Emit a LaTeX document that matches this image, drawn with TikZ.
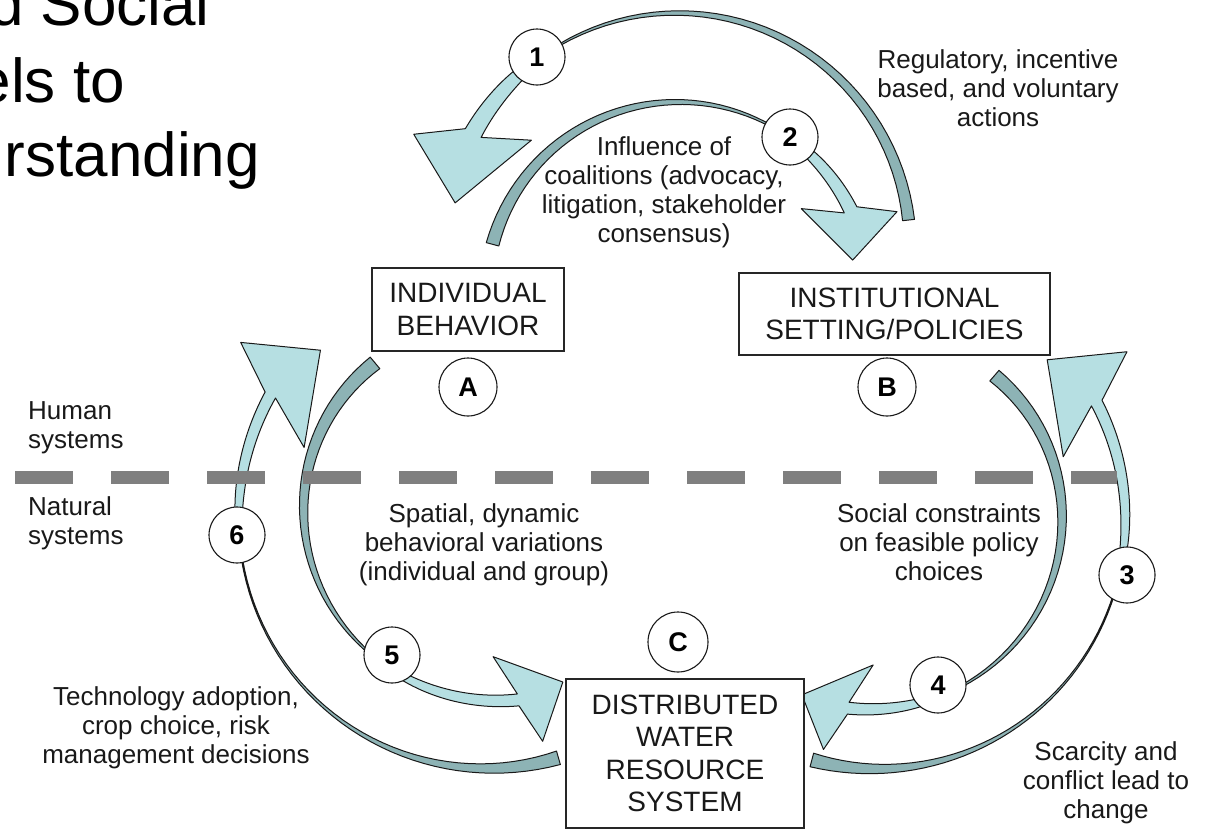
\documentclass[tikz,border=0pt]{standalone}
\usepackage{fontspec}
\setmainfont{Liberation Sans}

\definecolor{teallight}{HTML}{B6DFE2}
\definecolor{tealdark}{HTML}{8DB3B5}
\definecolor{sepgray}{HTML}{7F7F7F}

\newcommand\titlesize{\fontsize{62}{75}\selectfont}
\newcommand\notesize{\fontsize{26}{29}\selectfont}
\newcommand\boxsize{\fontsize{28}{32.5}\selectfont}
\newcommand\tagsize{\fontsize{27}{30}\selectfont\bfseries}

\pgfkeys{/ribbon/.cd,
  cx/.store in=\rbCx, cy/.store in=\rbCy,
  rt/.store in=\rbRt, rh/.store in=\rbRh,
  tail/.store in=\rbTail, twist/.store in=\rbTwist, base/.store in=\rbBase,
  tip/.store in=\rbTip, rtip/.store in=\rbRtip,
  bo/.store in=\rbBo, bi/.store in=\rbBi, head/.store in=\rbH,
  wt/.store in=\rbWt, wh/.store in=\rbWh,
  tailpow/.store in=\rbTP, headpow/.store in=\rbHP}

\newcommand\ribbon[1]{%
  \pgfkeys{/ribbon/.cd,tailpow=1,headpow=0.3,#1}%
  \begin{scope}[declare function={
      rr(\ang)=\rbRt+(\rbRh-\rbRt)*(\ang-(\rbTail))/((\rbBase)-(\rbTail));
      wd(\ang)=0.6+(\rbWt/2-0.6)*max(0.001,(\ang-(\rbTwist))/((\rbTail)-(\rbTwist)))^\rbTP;
      wl(\ang)=0.6+(\rbWh/2-0.6)*max(0.001,(\ang-(\rbTwist))/((\rbBase)-(\rbTwist)))^\rbHP;}]
    \draw[band, fill=tealdark]
      plot[domain=\rbTail:\rbTwist, samples=40, variable=\ang]
        ({\rbCx+(rr(\ang)+wd(\ang))*cos(\ang)}, {\rbCy+(rr(\ang)+wd(\ang))*sin(\ang)})
      -- plot[domain=\rbTwist:\rbTail, samples=40, variable=\ang]
        ({\rbCx+(rr(\ang)-wd(\ang))*cos(\ang)}, {\rbCy+(rr(\ang)-wd(\ang))*sin(\ang)})
      -- cycle;
    \draw[band, fill=teallight]
      plot[domain=\rbTwist:\rbBase, samples=30, variable=\ang]
        ({\rbCx+(rr(\ang)+wl(\ang))*cos(\ang)}, {\rbCy+(rr(\ang)+wl(\ang))*sin(\ang)})
      -- ({\rbCx+(\rbRh+\rbH)*cos(\rbBo)}, {\rbCy+(\rbRh+\rbH)*sin(\rbBo)})
      -- ({\rbCx+\rbRtip*cos(\rbTip)}, {\rbCy+\rbRtip*sin(\rbTip)})
      -- ({\rbCx+(\rbRh-\rbH)*cos(\rbBi)}, {\rbCy+(\rbRh-\rbH)*sin(\rbBi)})
      -- plot[domain=\rbBase:\rbTwist, samples=30, variable=\ang]
        ({\rbCx+(rr(\ang)-wl(\ang))*cos(\ang)}, {\rbCy+(rr(\ang)-wl(\ang))*sin(\ang)})
      -- cycle;
  \end{scope}}

\tikzset{
  sysbox/.style={draw=black!85, line width=1.2pt, fill=white, inner sep=0pt, align=center, font=\boxsize, text=black!90},
  tag/.style={circle, draw=black!90, line width=1.1pt, fill=white, minimum size=56pt, inner sep=0pt, font=\tagsize},
  note/.style={align=center, inner sep=0pt, font=\notesize, text=black!90},
  heading/.style={anchor=base east, inner sep=0pt, font=\titlesize},
  band/.style={draw=black!90, line width=1pt, line join=round},
}

\begin{document}
\begin{tikzpicture}[x=1pt, y=-1pt]
\useasboundingbox (0,0) rectangle (1205,833);

\ribbon{cx=677, cy=246, rt=233, rh=233, tail=-6.4, twist=-126.5, base=-151, tip=-169, rtip=226, bo=-157, bi=-144, head=53, wt=12, wh=18}
\ribbon{cx=678, cy=294, rt=192, rh=192, tail=-165, twist=-54.6, base=-26, tip=-11, rtip=178, bo=-20.6, bi=-34.7, head=42, wt=13, wh=14}
\ribbon{cx=874, cy=523, rt=245, rh=253, tail=104.7, twist=11.7, base=-28.3, tip=-43.3, rtip=238, bo=-34.1, bi=-19.3, head=52.5, wt=14, wh=12, tailpow=2.5}
\ribbon{cx=875, cy=513, rt=182, rh=197, tail=-49, twist=69.9, base=97.8, tip=111.9, rtip=196, bo=102.3, bi=90.7, head=45, wt=14, wh=12}
\ribbon{cx=491.5, cy=502.7, rt=182, rh=199, tail=230.2, twist=123.2, base=82.3, tip=68.3, rtip=193, bo=77.9, bi=89.4, head=45, wt=15, wh=12}
\ribbon{cx=492, cy=523, rt=244, rh=256, tail=74.2, twist=177.2, base=210, tip=225.2, rtip=243.5, bo=215.7, bi=201.9, head=53.5, wt=14, wh=12, tailpow=2.5}

\coordinate (sepL) at (15,477);
\coordinate (sepR) at (1117,477);
\draw[sepgray, line width=13pt, dash pattern=on 58pt off 38pt] (sepL) -- (sepR);

\node[sysbox, minimum width=192pt, minimum height=83pt] (indiv) at (468,309.5) {INDIVIDUAL\\BEHAVIOR};
\node[sysbox, minimum width=311pt, minimum height=82pt] (inst) at (894.5,314) {INSTITUTIONAL\\SETTING/POLICIES};
\node[sysbox, minimum width=238pt, minimum height=149pt] (water) at (685,753.5) {DISTRIBUTED\\WATER\\RESOURCE\\SYSTEM};

\node[tag, minimum size=58pt] (tagA) at (468,387) {A};
\node[tag, minimum size=58pt] (tagB) at (887,387) {B};
\node[tag, minimum size=60pt] (tagC) at (678,642) {C};
\node[tag] (n1) at (537,57) {1};
\node[tag] (n2) at (790,137) {2};
\node[tag] (n3) at (1127,575) {3};
\node[tag] (n4) at (938,685) {4};
\node[tag] (n5) at (392,655) {5};
\node[tag] (n6) at (237,535) {6};

\node[note, anchor=north] (regul) at (998,49.3) {Regulatory, incentive\\based, and voluntary\\actions};
\node[note, anchor=north] (coal) at (664,136.3) {Influence of\\coalitions (advocacy,\\litigation, stakeholder\\consensus)};
\node[note, anchor=north] (spat) at (484,503.3) {Spatial, dynamic\\behavioral variations\\(individual and group)};
\node[note, anchor=north] (constr) at (939,503.3) {Social constraints\\on feasible policy\\choices};
\node[note, anchor=north] (tech) at (176,686.3) {Technology adoption,\\crop choice, risk\\management decisions};
\node[note, anchor=north] (scarc) at (1106,741.3) {Scarcity and\\conflict lead to\\change};
\node[note, anchor=north west, align=left] (human) at (28,401.3) {Human\\systems};
\node[note, anchor=north west, align=left] (natur) at (28,496.3) {Natural\\systems};

\node[heading] (head1) at (210,25) {d Social};
\node[heading] (head2) at (125,102) {els to};
\node[heading] (head3) at (260,176) {rstanding};
\end{tikzpicture}
\end{document}
